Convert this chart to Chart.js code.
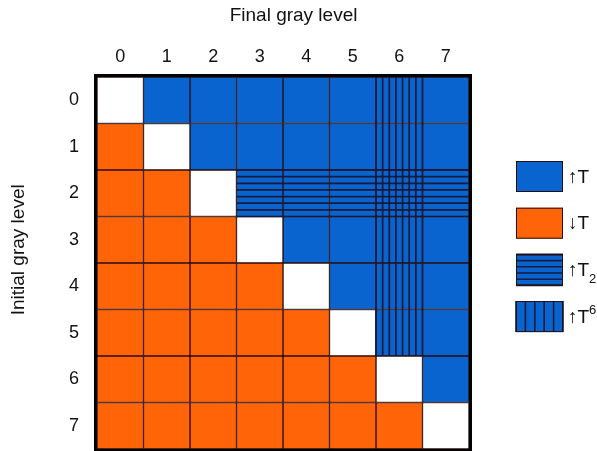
<!DOCTYPE html>
<html>
<head>
<meta charset="utf-8">
<script src="https://cdn.jsdelivr.net/npm/chart.js@4.4.0/dist/chart.umd.min.js"></script>
<style>
  body { margin: 0; background: #fff; }
  #wrap { width: 597px; height: 451px; }
</style>
</head>
<body>
<div id="wrap"><canvas id="chart" width="597" height="451"></canvas></div>
<script>
// ---- data ----
const initialLevels = ['0', '1', '2', '3', '4', '5', '6', '7'];
const finalLevels = ['0', '1', '2', '3', '4', '5', '6', '7'];
// one unit per cell along the final-level axis
const cellSpan = [1, 1, 1, 1, 1, 1, 1, 1];
// W = no change, U = ↑T, D = ↓T, H = ↑T2 (horizontal lines), V = ↑T6 (vertical lines), X = both
const transitionRows = [
  'WUUUUUVU',
  'DWUUUUVU',
  'DDWHHHXH',
  'DDDWUUVU',
  'DDDDWUVU',
  'DDDDDWVU',
  'DDDDDDWU',
  'DDDDDDDW'
];
const legendCodes = ['U', 'D', 'H', 'V'];
const legendText = ['↑T', '↓T', '↑T', '↑T'];
const legendScript = ['', '', '2', '6'];
const legendScriptPos = ['', '', 'sub', 'sup'];

// ---- styles ----
const BLUE = '#0a64cf';
const ORANGE = '#ff6508';
const EDGE = '#2a0c0c';
const HATCH = '#141a3a';
const FONT = "'Liberation Sans', Arial, Helvetica, sans-serif";

function fillFor(code) {
  if (code === 'W') return '#ffffff';
  if (code === 'D') return ORANGE;
  return BLUE;
}

// build one stacked dataset per final gray level (column)
const datasets = finalLevels.map((lvl, col) => ({
  label: 'Final ' + lvl,
  data: cellSpan.slice(),
  codes: initialLevels.map((_, row) => transitionRows[row][col]),
  backgroundColor: initialLevels.map((_, row) => fillFor(transitionRows[row][col])),
  borderColor: EDGE,
  borderWidth: 1,
  borderSkipped: false,
  barPercentage: 1,
  categoryPercentage: 1
}));

// draw line hatching inside a rectangle
function drawHatch(ctx, r, horizontal, n) {
  ctx.beginPath();
  for (let k = 0; k <= n; k++) {
    if (horizontal) {
      const y = r.top + (r.bottom - r.top) * k / n;
      ctx.moveTo(r.left, y);
      ctx.lineTo(r.right, y);
    } else {
      const x = r.left + (r.right - r.left) * k / n;
      ctx.moveTo(x, r.top);
      ctx.lineTo(x, r.bottom);
    }
  }
  ctx.stroke();
}

const hatchPlugin = {
  id: 'hatch',
  afterDatasetsDraw(chart) {
    const ctx = chart.ctx;
    ctx.save();
    ctx.strokeStyle = HATCH;
    ctx.lineWidth = 1.7;
    chart.data.datasets.forEach((ds, i) => {
      const meta = chart.getDatasetMeta(i);
      meta.data.forEach((bar, row) => {
        const code = ds.codes[row];
        if (code !== 'H' && code !== 'V' && code !== 'X') return;
        const p = bar.getProps(['x', 'y', 'base', 'height'], true);
        const r = {
          left: Math.min(p.x, p.base), right: Math.max(p.x, p.base),
          top: p.y - p.height / 2, bottom: p.y + p.height / 2
        };
        if (code === 'H' || code === 'X') drawHatch(ctx, r, true, 7);
        if (code === 'V' || code === 'X') drawHatch(ctx, r, false, 7);
      });
    });
    // thick frame round the matrix
    const a = chart.chartArea;
    ctx.strokeStyle = '#000';
    ctx.lineWidth = 3;
    ctx.strokeRect(a.left - 1.5, a.top - 1.5, a.right - a.left + 3, a.bottom - a.top + 3);
    ctx.restore();
  }
};

const legendPlugin = {
  id: 'sideLegend',
  afterDraw(chart) {
    const ctx = chart.ctx;
    const a = chart.chartArea;
    const boxX = a.right + 47, boxW = 47, boxH = 31;
    ctx.save();
    legendCodes.forEach((code, i) => {
      const y = 161 + i * 46.7;
      const r = { left: boxX, right: boxX + boxW, top: y, bottom: y + boxH };
      ctx.fillStyle = fillFor(code);
      ctx.fillRect(boxX, y, boxW, boxH);
      ctx.strokeStyle = HATCH;
      ctx.lineWidth = 1.6;
      if (code === 'H') drawHatch(ctx, r, true, 5);
      if (code === 'V') drawHatch(ctx, r, false, 5);
      ctx.strokeStyle = EDGE;
      ctx.lineWidth = 1;
      ctx.strokeRect(boxX + 0.5, y + 0.5, boxW - 1, boxH - 1);

      ctx.fillStyle = '#111';
      ctx.font = '19px ' + FONT;
      ctx.textBaseline = 'middle';
      ctx.textAlign = 'left';
      const tx = boxX + boxW + 5, ty = y + boxH / 2 + 1;
      ctx.fillText(legendText[i], tx, ty);
      if (legendScript[i]) {
        const w = ctx.measureText(legendText[i]).width;
        ctx.font = '13px ' + FONT;
        ctx.fillText(legendScript[i], tx + w, legendScriptPos[i] === 'sub' ? ty + 9 : ty - 7);
      }
    });
    ctx.restore();
  }
};

new Chart(document.getElementById('chart'), {
  type: 'bar',
  data: { labels: initialLevels, datasets: datasets },
  options: {
    indexAxis: 'y',
    responsive: false,
    animation: false,
    layout: { autoPadding: false, padding: { left: 0, right: 128, top: 0, bottom: 2 } },
    plugins: { legend: { display: false }, tooltip: { enabled: false } },
    scales: {
      x: { display: false, stacked: true, min: 0, max: finalLevels.length },
      xTop: {
        type: 'category',
        labels: finalLevels,
        position: 'top',
        offset: true,
        grid: { display: false, drawTicks: false },
        border: { display: false },
        ticks: { color: '#111', font: { family: FONT, size: 18 }, padding: 9 },
        // leading spaces nudge the title a bit right, as in the source figure
        title: { display: true, text: '    Final gray level', color: '#111', font: { family: FONT, size: 19 }, padding: { top: 4, bottom: 0 } },
        afterFit(scale) { scale.height = 77; }
      },
      y: {
        stacked: true,
        offset: true,
        grid: { display: false, drawTicks: false },
        border: { display: false },
        ticks: { color: '#111', font: { family: FONT, size: 18 }, padding: 18 },
        // leading spaces lift the rotated title slightly
        title: { display: true, text: '     Initial gray level', color: '#111', font: { family: FONT, size: 19 }, padding: { top: 7, bottom: 0 } },
        afterFit(scale) {
          scale.width = 97;
          // labels sit in the middle of each row, no extra room needed above/below
          scale.paddingTop = 0;
          scale.paddingBottom = 0;
        }
      }
    }
  },
  plugins: [hatchPlugin, legendPlugin]
});
</script>
</body>
</html>
